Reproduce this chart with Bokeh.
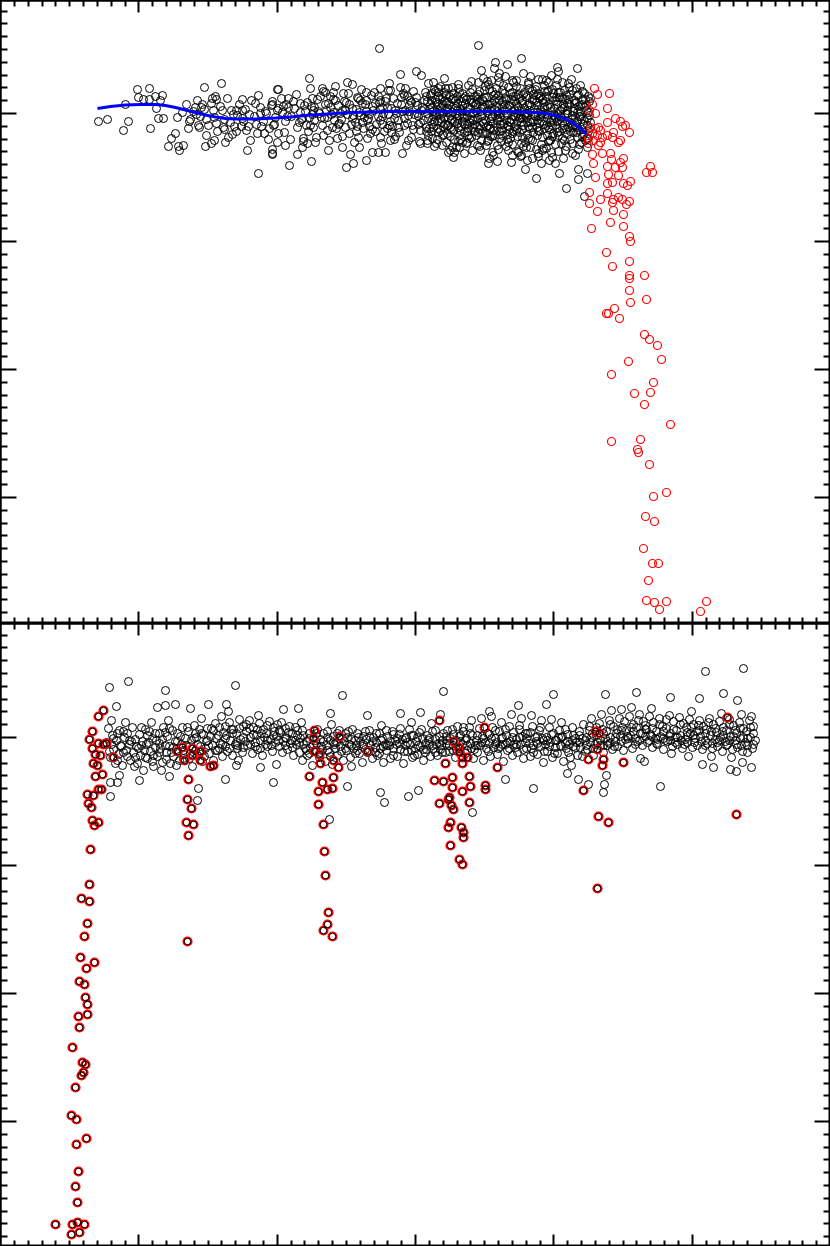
from bokeh.plotting import figure
from bokeh.layouts import column
from bokeh.models import Range1d, FixedTicker, LinearAxis, CustomJSTickFormatter
from bokeh.embed import file_html
from bokeh.resources import INLINE

# ---------------- data (arbitrary linear units; y grows downward like magnitudes) ----
# top panel: out-of-eclipse scatter (sparse part)
top_black_sparse = [
    (98,121),(107,119),(123,130),(125,104),(128,121),(137,89),(138,97),(143,99),(149,88),(150,128),(149,99),
    (155,96),(156,108),(160,100),(162,95),(158,118),(163,118),(175,133),(171,138),(168,146),(177,117),(178,146),
    (179,150),(183,145),(189,121),(195,107),(196,114),(198,125),(199,127),(201,107),(202,104),(204,87),(205,146),
    (206,119),(211,143),(214,140),(212,98),(216,99),(216,123),(213,110),(221,83),(222,110),(223,127),(225,142),
    (224,129),(232,134),(231,110),(234,126),(236,110),(237,115),(242,99),(242,110),(241,126),(243,121),(246,130),
    (247,150),(249,114),(255,103),(256,124),(258,173),(261,126),(260,113),(265,111),(264,133),(271,105),(272,149),
    (272,154),(274,124),(277,89),(277,142),
    (278,89),(272,104),(277,110),(283,106),(288,107),(273,125),(278,133),(285,145),(272,153),(289,165),(297,154),
    (302,147),(303,138),(307,143),(309,78),(307,102),(312,98),(313,110),(310,125),(311,161),(315,142),(322,88),
    (325,92),(323,135),(328,150),(333,92),(333,99),(330,107),(332,127),(337,138),(342,147),(343,93),(345,110),
    (346,167),(347,82),(352,84),(350,154),(353,163),(358,98),(357,126),(358,137),(359,147),(366,92),(366,160),
    (362,103),(367,120),(370,133),(372,152),(378,152),(379,48),(380,88),(380,100),(382,107),(380,137),(385,152),
    (387,128),(389,83),(390,90),(390,140),(395,136),(400,74),(402,153),(403,93),(405,88),(408,140),(410,100),
    (416,71),(421,75),(420,143),(427,143),(428,83),(433,82),(436,143),(438,88),(444,78),(448,152),(453,157),
    (454,152),(459,147),(478,45),(481,70),(488,163),(487,81),(494,68),(495,62),(498,77),(499,73),(507,64),
    (512,80),(517,151),(520,156),(521,58),(523,73),(525,169),(528,82),(536,178),(538,156),(542,79),(546,80),
    (548,90),(557,67),(558,71),(577,68),(555,163),(559,173),(566,188),(578,169),(578,179),(584,196),(587,173),
]
# top panel: moderately dense middle part
top_black_mid = [
    (182,112),(186,104),(190,119),(193,111),(197,100),(200,116),(204,109),(208,125),(211,103),(214,117),(217,131),
    (220,106),(224,119),(227,98),(230,122),(233,114),(236,131),(239,104),(242,118),(245,109),(248,126),(251,100),
    (254,116),(257,133),(260,107),(263,121),(266,113),(269,128),(272,101),(275,117),(278,108),(188,128),(206,135),
    (228,137),(250,140),(268,139),(215,96),(258,95),
    (282,112),(285,121),(288,98),(291,116),(294,108),(297,127),(300,103),(302,118),(305,111),(308,131),(311,106),
    (314,120),(317,99),(319,113),(322,125),(325,104),(327,117),(330,96),(333,112),(336,128),(338,105),(341,119),
    (344,101),(347,114),(349,133),(352,108),(355,122),(357,97),(360,115),(363,128),(365,104),(368,118),(371,95),
    (373,110),(376,124),(379,102),(382,116),(384,131),(387,107),(390,121),(393,98),(396,113),(398,127),(401,104),
    (404,118),(407,96),(409,111),(412,125),(415,102),(418,116),(420,130),(422,107),(284,132),(290,139),(296,94),
    (303,141),(310,88),(316,137),(323,91),(329,140),(335,86),(342,136),(348,93),(354,142),(361,89),(367,138),
    (374,92),(381,143),(388,90),(394,139),(400,87),(406,145),(413,91),(419,141),(424,100),(286,104),(299,122),
    (312,114),(326,110),(339,123),(353,115),(366,111),(380,109),(392,126),(405,110),(417,105),
    (383,113),(386,98),(389,125),(391,108),(394,118),(397,103),(399,132),(402,111),(404,95),(407,123),(409,105),
    (411,137),(414,114),(416,97),(418,124),(421,110),(423,120),(425,92),(380,120),(378,96),(375,131),(372,106),
    (369,126),(364,117),(360,100),(356,109),(351,124),(346,102),(340,113),(334,120),(328,103),(321,117),(314,107),
    (306,125),(300,112),(293,101),(287,116),(281,98),
    (301,119),(304,105),(309,117),(313,127),(318,111),(320,96),(324,118),(327,130),(331,114),(335,100),(338,124),
    (342,110),(345,127),(349,104),(352,118),(356,131),(359,112),(362,122),(366,100),(369,114),(372,129),(375,103),
    (378,116),(382,124),(385,101),(388,114),(391,132),(395,110),(398,120),(401,97),(404,125),(408,115),(411,102),
    (413,129),(417,113),(420,122),(424,109),(426,131),
]
# top panel: dense cloud just before ingress
top_black_dense = [
    (426,96),(428,118),(430,104),(431,131),(433,111),(434,89),(427,140),(432,124),(435,99),(429,109),(434,146),(426,127),(431,93),(433,116),(428,135),
    (436,102),(437,121),(438,92),(439,113),(440,130),(441,107),(442,97),(443,126),(444,117),(437,139),(440,86),(442,145),(445,109),(438,132),(444,101),(436,115),
    (446,94),(447,112),(448,125),(449,104),(450,136),(451,119),(452,99),(453,130),(454,108),(446,142),(448,88),(450,115),(452,147),(454,122),(447,101),(453,93),
    (456,106),(457,96),(458,127),(459,115),(460,139),(461,101),(462,121),(463,111),(464,132),(456,147),(458,88),(460,109),(462,93),(464,124),(457,118),(465,103),(459,135),
    (466,99),(467,116),(468,128),(469,108),(470,92),(471,137),(472,113),(473,102),(474,124),(466,143),(468,85),(470,119),(472,150),(474,96),(467,131),(475,110),(469,122),
    (476,104),(477,118),(478,94),(479,129),(480,111),(481,140),(482,99),(483,123),(484,107),(476,135),(478,82),(480,150),(482,115),(484,90),(477,126),(485,132),(479,101),
    (486,97),(487,112),(488,125),(489,104),(490,136),(491,118),(492,91),(493,130),(494,109),(486,145),(488,84),(490,121),(492,152),(494,100),(487,133),(495,115),(489,128),(493,95),
    (496,106),(497,120),(498,95),(499,131),(500,113),(501,141),(502,101),(503,124),(504,110),(496,88),(498,149),(500,117),(502,135),(504,93),(497,127),(505,104),(499,138),(503,85),
    (506,99),(507,114),(508,126),(509,105),(510,138),(511,119),(512,92),(513,131),(514,109),(506,146),(508,87),(510,122),(512,155),(514,101),(507,134),(515,116),(509,129),(513,96),
    (516,103),(517,121),(518,94),(519,132),(520,111),(521,143),(522,100),(523,125),(524,108),(516,86),(518,152),(520,117),(522,137),(524,92),(517,128),(525,113),(519,98),(523,146),
    (526,97),(527,113),(528,126),(529,104),(530,139),(531,119),(532,90),(533,132),(534,108),(526,147),(528,84),(530,122),(532,158),(534,100),(527,134),(535,116),(529,128),(533,94),
    (536,102),(537,120),(538,93),(539,131),(540,110),(541,144),(542,99),(543,124),(544,107),(536,86),(538,153),(540,116),(542,137),(544,91),(537,127),(545,113),(539,98),(543,148),
    (546,96),(547,114),(548,127),(549,104),(550,140),(551,119),(552,89),(553,133),(554,108),(546,148),(548,82),(550,122),(552,157),(554,100),(547,135),(555,117),(549,129),(553,93),
    (556,101),(557,121),(558,92),(559,131),(560,110),(561,143),(562,98),(563,125),(564,107),(556,85),(558,151),(560,116),(562,138),(564,90),(557,128),(565,113),(559,97),
    (566,95),(567,113),(568,127),(569,104),(570,139),(571,119),(572,90),(573,132),(574,108),(566,146),(568,83),(570,122),(572,153),(574,100),(567,134),(575,117),
    (576,102),(577,121),(578,94),(579,130),(580,111),(581,142),(582,99),(583,124),(584,107),(576,88),(578,149),(580,116),(582,136),(584,93),(577,127),
    (586,105),(587,118),(588,96),(589,128),(586,138),(588,112),(590,122),(587,147),(589,101),
]
# top panel: second and third passes through the dense cloud
top_black_dense2 = [
    (427,113),(427,101),(429,128),(430,95),(432,107),(432,138),(434,121),(435,91),(437,109),(437,128),(439,99),
    (440,118),(442,135),(442,104),(444,92),(445,124),(447,108),(447,133),(449,96),(450,127),(452,112),(452,87),
    (454,139),(455,100),(457,123),(457,110),(459,92),(460,130),(462,105),(462,142),(464,117),(465,96),(467,124),
    (467,107),(469,138),(470,99),(472,119),(472,89),(474,131),(475,104),(477,112),(477,145),(479,91),(480,125),
    (482,106),(482,133),(484,97),(485,120),(487,110),(487,141),(489,89),(490,128),(492,103),(492,116),(494,135),
    (495,94),(497,111),(497,145),(499,100),(500,124),(502,90),(502,130),(504,115),(505,98),(507,139),(507,108),
    (509,121),(510,93),(512,111),(512,144),(514,126),(515,96),(517,106),(517,136),(519,118),(520,88),(522,129),
    (522,103),(524,114),(525,142),(527,95),(527,122),(529,110),(530,147),(532,99),(532,127),(534,115),(535,89),
    (537,135),(537,105),(539,123),(540,96),(542,112),(542,150),(544,128),(545,101),(547,118),(547,91),(549,140),
    (550,107),(552,125),(552,97),(554,115),(555,144),(557,104),(557,132),(559,119),(560,92),(562,108),(562,128),
    (564,140),(565,99),(567,121),(567,110),(569,94),(570,131),(572,115),(572,143),(574,103),(575,126),(577,95),
    (577,137),(579,116),(580,105),(582,129),(582,91),(584,120),(585,140),(586,110),(588,131),(589,115),(590,98),
    (483,78),(491,80),(505,76),(513,82),(530,76),(538,79),(551,75),(562,82),(571,79),(489,158),(497,161),
    (511,162),(527,160),(541,163),(549,160),(563,158),(575,155),
]
top_black_dense3 = [
    (431,100),(433,127),(436,112),(438,96),(441,122),(443,134),(446,103),(448,117),(451,129),(453,98),(456,113),
    (458,141),(461,126),(463,98),(466,111),(468,135),(471,102),(473,120),(476,96),(478,132),(481,116),(483,101),
    (486,126),(488,140),(491,108),(493,123),(496,98),(498,114),(501,128),(503,104),(506,120),(508,142),(511,99),
    (513,116),(516,130),(518,107),(521,122),(523,94),(526,117),(528,138),(531,105),(533,121),(536,95),(538,130),
    (541,114),(543,102),(546,125),(548,141),(551,111),(553,120),(556,97),(558,135),(561,117),(563,104),(566,129),
    (568,99),(571,125),(573,111),(576,132),(578,106),(581,119),(583,134),(585,99),(587,125),
    (432,119),(437,104),(442,113),(447,125),(452,120),(457,103),(462,115),(467,142),(472,127),(477,99),(482,121),
    (487,104),(492,136),(497,118),(502,107),(507,125),(512,133),(517,113),(522,118),(527,105),(532,140),(537,112),
    (542,121),(547,106),(552,136),(557,113),(562,122),(567,103),(572,127),(577,112),(582,104),(587,138),
    (445,88),(458,84),(471,81),(485,86),(499,82),(516,80),(529,88),(544,85),(557,79),(569,87),(580,85),(450,150),
    (464,153),(479,146),(493,155),(508,150),(521,155),(536,149),(551,152),(565,150),(579,144),
]
# top panel: in-eclipse points (red)
top_red = [
    (594,88),(597,94),(609,93),(592,104),(607,108),(589,110),(595,113),(615,118),(620,121),(625,125),(622,126),
    (607,122),(590,127),(595,128),(598,127),(600,130),(613,132),(629,132),(592,133),(597,135),(602,137),(607,135),
    (612,137),(588,138),(593,140),(600,142),(618,142),(620,140),(588,143),(598,145),(592,154),(602,153),(610,153),
    (611,159),(623,158),(593,163),(607,166),(615,167),(622,167),(620,162),(650,166),(646,172),(652,172),(595,177),
    (608,174),(618,175),(630,181),(623,183),(607,183),(612,182),(627,185),(589,192),(607,193),(600,199),(613,199),
    (618,197),(622,199),(629,201),(589,203),(612,202),(626,204),(597,211),(613,210),(623,214),(591,228),(610,222),
    (623,226),(629,236),(630,241),(606,252),(629,261),(612,266),(629,275),(629,278),(644,275),(629,290),(630,302),
    (646,299),(614,308),(606,313),(608,313),(619,318),(644,334),(649,339),(657,345),(661,359),(628,361),(611,374),
    (653,382),(634,393),(650,392),(644,404),(670,424),(611,441),(640,439),(637,449),(638,452),(649,464),(666,492),
    (653,496),(645,516),(654,521),(643,548),(652,563),(658,563),(648,580),(646,600),(654,602),(666,601),(659,609),
    (706,601),(700,611),
]
# top panel: model curve (blue)
top_model = [
    (97,108),(110,106),(125,104.5),(140,104),(155,104),(165,105),(175,107),(185,109.5),(195,112),(205,114.5),
    (215,116.5),(225,118),(235,118.5),(245,118.5),(255,118.5),(265,118),(275,117.5),(290,116.5),(305,115),
    (320,114),(335,113),(350,112),(370,111.5),(390,111),(410,111),(430,111),(450,111),(470,111),(490,111),
    (510,111),(525,111.5),(535,112),(545,113),(555,115),(562,117.5),(570,121),(576,125),(581,129),(586,134),
]

# bottom panel: out-of-transit outliers
bot_black_sparse = [
    (109,687),(128,681),(165,690),(235,685),(116,706),(157,707),(165,705),(175,704),(190,708),(208,704),(226,704),
    (228,711),(110,796),(117,782),(110,782),(119,775),(139,780),(169,776),(225,779),(197,800),(198,788),(236,765),
    (260,767),(273,782),(276,764),(342,695),(443,691),(283,709),(298,708),(330,713),(367,715),(400,713),(420,712),
    (440,714),(489,711),(518,705),(546,704),(329,819),(380,792),(384,802),(408,796),(418,790),(347,786),(472,812),
    (533,788),(505,779),(705,671),(743,668),(553,694),(605,694),(636,692),(723,693),(670,697),(699,698),(737,700),
    (660,786),(606,775),(604,784),(603,792),(588,784),(578,779),(567,773),(751,767),(730,769),(736,771),(713,767),
    (702,764),(688,756),(742,762),(640,758),(644,761),
]
# bottom panel: main band
bot_black_band = [
    (106,742),(108,728),(110,757),(112,735),(113,749),(115,763),(111,720),
    (116,740),(118,754),(119,730),(121,746),(122,765),(124,737),(125,722),
    (126,750),(127,733),(129,744),(130,760),(132,727),(133,752),(135,739),
    (136,746),(137,763),(139,734),(140,755),(142,741),(143,770),(145,729),(144,750),
    (146,744),(147,758),(149,731),(150,751),(152,738),(153,766),(155,747),(151,722),
    (156,740),(157,756),(159,733),(160,748),(162,762),(163,727),(165,745),(161,770),
    (166,752),(167,736),(169,746),(170,763),(172,730),(173,756),(175,741),(168,720),
    (176,749),(177,733),(179,760),(181,744),(182,727),(184,754),(185,738),
    (186,745),(188,731),(189,758),(191,740),(192,766),(194,725),(195,750),
    (196,737),(197,755),(199,729),(200,746),(202,761),(203,734),(205,748),(201,718),
    (206,741),(207,728),(209,753),(210,736),(212,745),(213,760),(215,723),
    (216,738),(217,750),(219,727),(220,743),(222,756),(223,732),(225,746),(221,716),
    (226,735),(227,751),(229,722),(230,740),(232,755),(233,729),(235,744),
    (236,733),(237,748),(239,719),(240,739),(242,752),(243,726),(245,741),(238,760),
    (246,731),(247,745),(249,720),(250,737),(252,753),(253,727),(255,742),
    (256,735),(257,749),(259,723),(260,740),(262,755),(263,729),(265,744),(258,715),
    (266,733),(267,746),(269,721),(270,739),(272,751),(273,727),(275,742),
    (276,736),(277,724),(279,746),(280,732),(282,752),(283,741),(285,728),
    (286,738),(287,749),(289,726),(290,743),(292,733),(293,755),(295,740),
    (296,744),(297,730),(299,752),(300,738),(302,760),(303,735),(305,748),(301,722),
    (306,741),(307,755),(309,733),(310,747),(312,765),(313,738),(315,750),
    (316,743),(317,729),(319,757),(320,739),(322,749),(323,733),(325,761),
    (326,745),(327,731),(329,752),(330,740),(332,764),(333,736),(335,748),(331,724),
    (336,742),(337,755),(339,730),(340,746),(342,738),(343,760),(345,733),
    (346,750),(347,737),(349,744),(350,757),(352,729),(353,748),(355,740),(351,766),
    (356,745),(357,733),(359,753),(360,741),(362,762),(363,736),(365,749),
    (366,739),(367,752),(369,730),(370,745),(372,758),(373,737),(375,747),
    (376,742),(377,755),(379,733),(380,748),(382,738),(383,762),(385,744),(381,725),
    (386,750),(387,736),(389,745),(390,758),(392,731),(393,748),(395,740),
    (396,744),(397,756),(399,734),(400,749),(402,739),(403,763),(405,745),
    (406,737),(407,751),(409,729),(410,744),(412,757),(413,735),(415,748),(411,722),
    (416,741),(417,754),(419,732),(420,746),(422,738),(423,760),(425,743),
    (426,749),(427,735),(429,744),(430,756),(432,731),(433,748),(435,739),(431,723),
    (436,744),(437,755),(439,736),(440,749),(442,740),(443,733),(445,752),
    (446,743),(447,730),(449,751),(450,738),(452,729),(453,745),(455,757),
    (456,740),(457,726),(459,748),(460,735),(462,744),(463,731),(465,753),
    (466,738),(467,750),(469,727),(470,743),(472,735),(473,758),(475,745),(471,720),
    (476,740),(477,752),(479,728),(480,745),(482,736),(483,760),(485,742),(481,718),
    (486,748),(487,733),(489,743),(490,756),(492,727),(493,747),(495,738),(491,716),
    (496,742),(497,754),(499,731),(500,746),(502,737),(503,761),(505,744),(501,722),
    (506,735),(507,750),(509,726),(510,741),(512,755),(513,732),(515,747),(511,714),
    (516,739),(517,752),(519,729),(520,744),(522,736),(523,758),(525,742),(521,718),
    (526,748),(527,733),(529,743),(530,756),(532,726),(533,745),(535,737),(531,715),
    (536,741),(537,754),(539,730),(540,746),(542,738),(543,762),(545,744),(541,720),
    (546,737),(547,751),(549,727),(550,742),(552,757),(553,733),(555,747),(551,719),
    (556,740),(557,753),(559,730),(560,745),(562,736),(563,761),(565,743),(561,722),
    (566,748),(567,734),(569,744),(570,757),(572,727),(573,746),(575,738),(571,765),
    (576,742),(577,755),(579,731),(580,747),(582,738),(583,724),(585,751),
    (586,737),(587,749),(589,726),(590,742),(592,733),(593,755),(595,744),(591,718),
    (596,735),(597,748),(599,723),(600,740),(602,729),(603,752),(605,738),(601,714),
    (606,731),(607,745),(609,720),(610,737),(612,749),(613,726),(615,741),(611,710),
    (616,733),(617,746),(619,718),(620,736),(622,727),(623,750),(625,739),(621,709),
    (626,730),(627,743),(629,716),(630,735),(632,748),(633,724),(635,738),(631,707),
    (636,727),(637,741),(639,714),(640,733),(642,745),(643,721),(645,736),
    (646,729),(647,742),(649,716),(650,734),(652,747),(653,722),(655,738),(651,708),
    (656,731),(657,744),(659,718),(660,736),(662,726),(663,749),(665,740),
    (666,728),(667,741),(669,715),(670,733),(672,746),(673,721),(675,737),(671,753),
    (676,730),(677,744),(679,717),(680,735),(682,748),(683,723),(685,739),
    (686,727),(687,742),(689,719),(690,733),(692,747),(693,724),(695,738),(691,711),
    (696,731),(697,745),(699,720),(700,736),(702,749),(703,726),(705,740),
    (706,729),(707,743),(709,718),(710,735),(712,748),(713,724),(715,739),(711,756),
    (716,732),(717,746),(719,721),(720,737),(722,751),(723,727),(725,741),(721,713),
    (726,730),(727,744),(729,719),(730,736),(732,749),(733,725),(735,740),(731,757),
    (736,733),(737,747),(739,722),(740,738),(742,751),(743,728),(745,742),(741,714),
    (746,731),(747,745),(749,720),(750,737),(752,748),(753,726),(755,740),(751,716),
]
# bottom panel: further passes through the band core
bot_black_band2 = [
    (109,751),(113,738),(117,760),(120,745),(123,731),(127,756),(131,741),(134,766),(138,748),(141,727),(145,757),
    (148,742),(152,761),(155,733),(159,752),(162,739),(166,759),(169,728),(173,747),(176,765),(180,736),(183,750),
    (187,727),(190,753),(194,738),(197,744),(201,733),(204,756),(208,745),(211,728),(215,750),(218,735),(222,744),
    (225,726),(229,748),(232,733),(236,742),(239,728),(243,747),(246,724),(250,744),(253,734),(257,729),(260,748),
    (264,737),(267,725),(271,745),(274,731),(278,740),(281,722),(285,745),(288,732),(292,747),(295,727),(299,742),
    (302,730),(306,750),(309,738),(313,744),(316,733),(320,752),(323,741),(327,737),(330,756),(334,744),(337,733),
    (341,751),(344,741),(348,731),(351,745),(355,753),(358,737),(362,746),(365,731),(369,750),(372,741),(376,733),
    (379,753),(383,746),(386,730),(390,741),(393,755),(397,738),(400,728),(404,751),(407,742),(411,735),(414,755),
    (418,745),(421,729),(425,752),(428,740),(432,745),(435,730),(439,743),(442,752),(446,736),(449,745),(453,734),
    (456,749),(460,741),(463,727),(467,745),(470,733),(474,749),(477,735),(481,742),(484,728),(488,751),(491,738),
    (495,730),(498,748),(502,744),(505,729),(509,748),(512,737),(516,744),(519,725),(523,749),(526,738),(530,732),
    (533,752),(537,743),(540,727),(544,751),(547,740),(551,734),(554,753),(558,737),(561,746),(565,729),(568,752),
    (572,740),(575,747),(579,735),(582,756),(586,745),(589,730),(593,748),(596,727),(600,745),(603,733),(607,741),
    (610,724),(614,746),(617,729),(621,741),(624,721),(628,738),(631,727),(635,744),(638,720),(642,733),(645,725),
    (649,740),(652,728),(656,743),(659,724),(663,738),(666,719),(670,740),(673,729),(677,737),(680,724),(684,744),
    (687,732),(691,727),(694,742),(698,725),(701,741),(705,733),(708,722),(712,743),(715,728),(719,740),(722,731),
    (726,745),(729,724),(733,736),(736,744),(740,728),(743,737),(747,752),(750,727),(753,744),
]
bot_black_band3 = [
    (111,744),(117,733),(123,752),(129,740),(135,757),(141,745),(147,735),(153,755),(159,743),(165,732),(171,752),
    (177,741),(183,758),(189,746),(195,733),(201,751),(207,740),(213,730),(219,748),(225,738),(231,729),(237,745),
    (243,737),(249,728),(255,746),(261,733),(267,740),(273,735),(279,730),(285,737),(291,740),(297,735),(303,744),
    (309,753),(315,740),(321,746),(327,750),(333,742),(339,738),(345,748),(351,739),(357,750),(363,744),(369,736),
    (375,752),(381,740),(387,745),(393,734),(399,743),(405,738),(411,750),(417,737),(423,749),(429,738),(435,752),
    (441,745),(447,740),(453,750),(459,736),(465,740),(471,748),(477,745),(483,738),(489,734),(495,744),(501,738),
    (507,742),(513,744),(519,737),(525,733),(531,748),(537,736),(543,740),(549,746),(555,740),(561,737),(567,741),
    (573,735),(579,742),(585,740),(591,737),(597,742),(603,745),(609,743),(615,737),(621,730),(627,736),(633,731),
    (639,740),(645,729),(651,736),(657,739),(663,731),(669,736),(675,742),(681,740),(687,736),(693,735),(699,730),
    (705,745),(711,731),(717,742),(723,735),(729,740),(735,730),(741,745),(747,738),(753,733),
]
# bottom panel: in-transit points (red)
bot_red = [
    (103,710),(98,716),(92,731),(89,739),(92,748),(98,743),(106,743),(103,744),(95,754),(100,755),(113,757),
    (93,763),(97,765),(95,776),(102,774),(98,789),(101,789),(87,794),(93,795),(88,803),(91,807),(92,820),
    (94,825),(98,822),(177,751),(182,747),(192,748),(200,751),(184,760),(192,755),(200,760),(210,766),(213,765),
    (188,779),(187,799),(191,808),(186,822),(193,824),(188,835),(90,849),(89,884),(81,898),(89,901),(87,923),
    (84,936),(187,941),(80,957),(94,962),(86,968),(79,981),(84,984),(85,997),(87,1004),(78,1016),(87,1014),
    (79,1027),(72,1047),(82,1062),(85,1064),(83,1072),(81,1075),(75,1087),(71,1115),(76,1119),(86,1138),
    (76,1144),(78,1171),(75,1186),(77,1202),(55,1224),(72,1224),(77,1222),(84,1224),(71,1234),(79,1232),
    (314,730),(313,738),(339,736),(367,751),(314,751),(319,754),(320,763),(333,760),(338,767),(309,776),
    (333,777),(322,782),(318,791),(327,789),(332,788),(318,804),(323,824),(324,851),(325,875),(328,912),
    (327,924),(323,930),(332,936),(439,720),(453,741),(458,747),(459,752),(462,757),(467,757),(462,763),
    (445,763),(469,776),(434,780),(443,781),(452,777),(470,786),(462,791),(452,787),(449,797),(448,799),
    (439,803),(451,805),(453,809),(469,802),(450,822),(448,827),(461,827),(463,832),(463,837),(450,845),
    (459,859),(462,864),(484,727),(497,767),(485,785),(485,789),(595,731),(599,733),(727,717),(597,749),
    (588,759),(603,759),(602,765),(623,762),(583,790),(598,816),(608,822),(597,888),(736,814),
]


def unzip(pairs):
    return [a for a, _ in pairs], [b for _, b in pairs]


# ---------------- axes helpers ----------------
X_END = 830.0
X_MAJ = X_END / 6.0
x_major = [X_MAJ * k for k in range(1, 6)]
x_minor = [X_MAJ / 10.0 * j for j in range(1, 60) if j % 10]

BLANK = CustomJSTickFormatter(code="return '';")


def y_ticks(origin, lo, hi):
    major = [origin + 128 * k for k in range(-3, 6) if lo < origin + 128 * k < hi]
    minor = [origin + 12.8 * j for j in range(-30, 60) if j % 10 and lo < origin + 12.8 * j < hi]
    return major, minor


def style_axis(ax, maj, mnr):
    ax.formatter = BLANK
    ax.major_label_text_font_size = "0px"
    ax.major_label_standoff = 0
    ax.axis_line_color = "black"
    ax.axis_line_width = 2
    ax.major_tick_in = maj
    ax.major_tick_out = 0
    ax.minor_tick_in = mnr
    ax.minor_tick_out = 0
    ax.major_tick_line_width = 2
    ax.minor_tick_line_width = 2
    ax.major_tick_line_color = "black"
    ax.minor_tick_line_color = "black"


def make_panel(y_lo, y_hi, y_origin):
    p = figure(width=830, height=623, x_range=Range1d(0, X_END), y_range=Range1d(y_hi, y_lo),
               output_backend="svg", toolbar_location=None, min_border=0,
               x_axis_location=None, y_axis_location=None)
    p.xgrid.visible = False
    p.ygrid.visible = False
    p.outline_line_color = "black"
    p.outline_line_width = 2
    p.background_fill_color = "white"
    p.border_fill_color = "white"
    ym, yn = y_ticks(y_origin, y_lo, y_hi)
    for side in ("below", "above"):
        ax = LinearAxis(ticker=FixedTicker(ticks=x_major, minor_ticks=x_minor))
        style_axis(ax, 12, 6)
        p.add_layout(ax, side)
    for side in ("left", "right"):
        ax = LinearAxis(ticker=FixedTicker(ticks=ym, minor_ticks=yn))
        style_axis(ax, 16, 7)
        p.add_layout(ax, side)
    return p


# ---------------- top panel ----------------
p1 = make_panel(0, 623, 113)
for grp in (top_black_sparse, top_black_mid, top_black_dense, top_black_dense2, top_black_dense3):
    gx, gy = unzip(grp)
    p1.scatter(gx, gy, marker="circle", size=8, fill_color=None, line_color="black", line_width=1)
rx, ry = unzip(top_red)
p1.scatter(rx, ry, marker="circle", size=8, fill_color=None, line_color="#ff0000", line_width=1.2)
mx, my = unzip(top_model)
p1.line(mx, my, line_color="#0000ff", line_width=3)

# ---------------- bottom panel ----------------
p2 = make_panel(623, 1246, 737)
for grp in (bot_black_band, bot_black_band2, bot_black_band3, bot_black_sparse):
    gx, gy = unzip(grp)
    p2.scatter(gx, gy, marker="circle", size=8, fill_color=None, line_color="black", line_width=1)
bx, by = unzip(bot_red)
p2.scatter(bx, by, marker="circle", size=8, fill_color=None, line_color="#ff0000", line_width=2.2)
p2.scatter(bx, by, marker="circle", size=6.5, fill_color=None, line_color="black", line_width=1)

page = column(p1, p2, spacing=0)
open("out.html", "w").write(file_html(page, INLINE))
